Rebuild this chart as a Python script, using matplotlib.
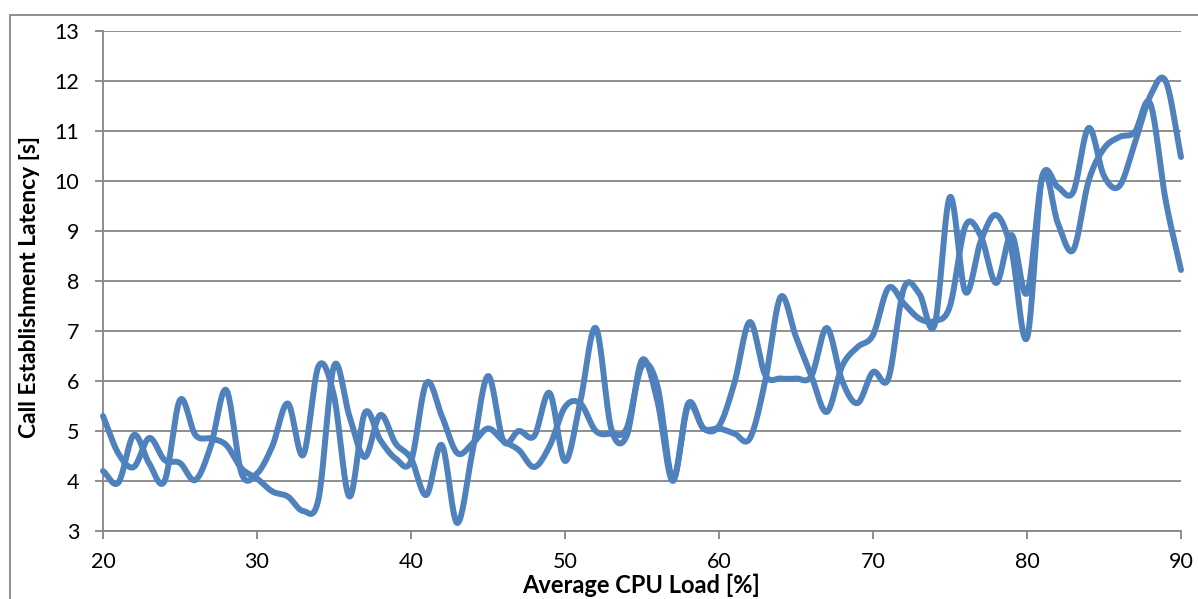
import numpy as np
import matplotlib
matplotlib.use("Agg")
import matplotlib.pyplot as plt
from matplotlib.patches import Rectangle

# ---- data ----
cpu_load = list(range(20, 91))

latency_a = [4.2, 3.97, 4.92, 4.35, 4.0, 5.62, 4.92, 4.85, 4.72, 4.25,
             4.05, 3.79, 3.69, 3.4, 3.65, 6.3, 5.3, 4.48, 5.32, 4.75,
             4.45, 3.72, 4.72, 3.16, 4.6, 6.1, 4.8, 5.0, 4.9, 5.76,
             4.4, 5.6, 7.06, 5.05, 4.9, 6.42, 5.6, 4.0, 5.55, 5.05,
             5.1, 5.96, 7.18, 6.12, 6.05, 6.05, 6.1, 7.06, 6.0, 5.56,
             6.18, 6.05, 7.85, 7.75, 7.12, 9.68, 7.78, 8.8, 9.32, 8.6,
             6.86, 10.1, 9.16, 8.62, 10.0, 10.65, 10.88, 10.98, 11.55, 9.62,
             8.22]

latency_b = [5.3, 4.55, 4.28, 4.86, 4.42, 4.36, 4.02, 4.7, 5.82, 4.15,
             4.15, 4.7, 5.55, 4.52, 6.3, 5.7, 3.69, 5.36, 4.82, 4.45,
             4.4, 5.96, 5.3, 4.56, 4.75, 5.05, 4.8, 4.62, 4.28, 4.7,
             5.48, 5.55, 5.0, 4.95, 5.05, 6.3, 5.9, 4.05, 5.5, 5.05,
             5.05, 4.95, 4.85, 6.0, 7.68, 6.88, 6.1, 5.38, 6.3, 6.68,
             6.92, 7.86, 7.55, 7.25, 7.2, 7.5, 9.1, 8.9, 7.96, 8.92,
             7.76, 10.1, 9.88, 9.78, 11.06, 10.1, 9.9, 10.76, 11.7, 12.0,
             10.48]

x_ticks = [20, 30, 40, 50, 60, 70, 80, 90]
y_ticks = [3, 4, 5, 6, 7, 8, 9, 10, 11, 12, 13]

LINE_COLOR = "#4F81BD"
GRID_COLOR = "#868686"


def smooth(xs, ys, n=20):
    """Catmull-Rom spline through the points (Excel-like smoothed line)."""
    p = np.column_stack([xs, ys]).astype(float)
    p = np.vstack([2 * p[0] - p[1], p, 2 * p[-1] - p[-2]])
    out = []
    t = np.linspace(0, 1, n, endpoint=False)[:, None]
    for i in range(1, len(p) - 2):
        p0, p1, p2, p3 = p[i - 1], p[i], p[i + 1], p[i + 2]
        seg = 0.5 * ((2 * p1) + (-p0 + p2) * t
                     + (2 * p0 - 5 * p1 + 4 * p2 - p3) * t ** 2
                     + (-p0 + 3 * p1 - 3 * p2 + p3) * t ** 3)
        out.append(seg)
    out.append(p[-2][None, :])
    out = np.vstack(out)
    return out[:, 0], out[:, 1]


plt.rcParams['font.family'] = ['Lato', 'DejaVu Sans']

fig = plt.figure(figsize=(11.98, 5.99), dpi=100)
ax = fig.add_axes([103 / 1198, 1 - 531 / 599, (1181 - 103) / 1198, 500 / 599])

# outer chart border
fig.patches.append(Rectangle((10 / 1198, -0.2), 1.5, 1.2 - 15 / 599,
                             transform=fig.transFigure, fill=False,
                             edgecolor=GRID_COLOR, linewidth=1.3, zorder=0))

for ys in (latency_a, latency_b):
    sx, sy = smooth(cpu_load, ys)
    ax.plot(sx, sy, color=LINE_COLOR, linewidth=4.3, solid_capstyle='round',
            solid_joinstyle='round', clip_on=False, zorder=3)

ax.set_xlim(20, 90)
ax.set_ylim(3, 13)
ax.set_xticks(x_ticks)
ax.set_yticks(y_ticks)
ax.yaxis.grid(True, color=GRID_COLOR, linewidth=1.3)
ax.set_axisbelow(True)
for s in ("top", "right"):
    ax.spines[s].set_visible(False)
for s in ("left", "bottom"):
    ax.spines[s].set_color(GRID_COLOR)
    ax.spines[s].set_linewidth(1.3)
ax.tick_params(axis='both', direction='out', length=6, width=1.3,
               color=GRID_COLOR, labelsize=15.5, labelcolor='black')
ax.tick_params(axis='y', pad=11)
ax.tick_params(axis='x', pad=9)

fig.text(641 / 1198, 1 - 585 / 599, "Average CPU Load [%]", ha='center',
         va='center', fontsize=17, fontweight='bold')
fig.text(30 / 1198, 1 - 287 / 599, "Call Establishment Latency [s]",
         ha='center', va='center', rotation=90, fontsize=16.5,
         fontweight='bold')

fig.savefig("out.png", dpi=100)
